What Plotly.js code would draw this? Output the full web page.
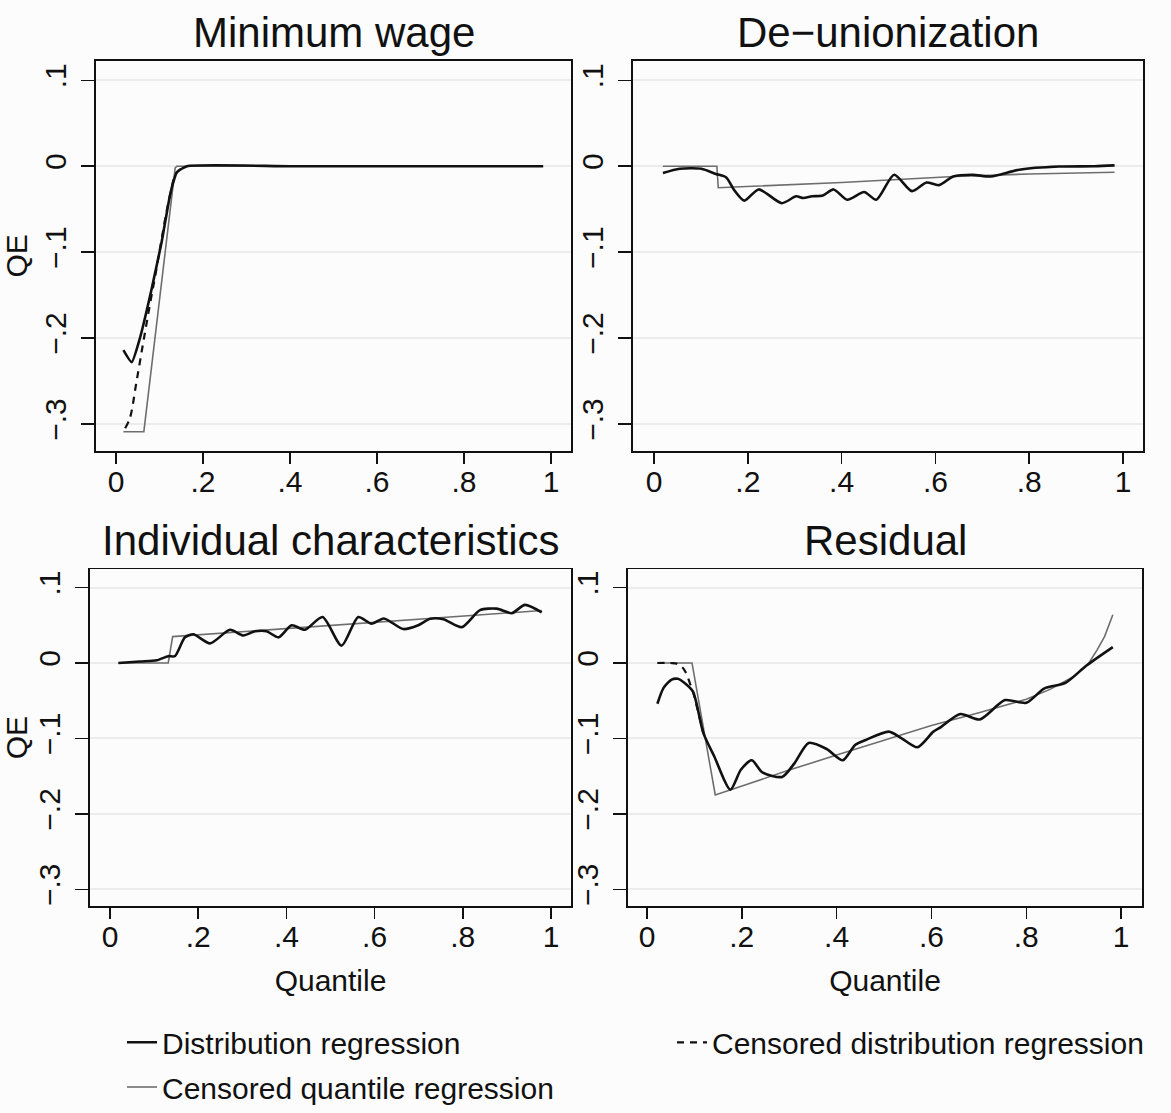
<!DOCTYPE html>
<html>
<head>
<meta charset="utf-8">
<script src="https://cdn.plot.ly/plotly-3.0.1.min.js"></script>
<style>
  html, body { margin: 0; padding: 0; background: #fcfcfc; width: 1171px; height: 1113px; overflow: hidden; }
  #chart { width: 1171px; height: 1113px; overflow: hidden; }
</style>
</head>
<body>
<div id="chart"></div>
<script>
// ---------------- DATA ----------------
const panelTitles = ['Minimum wage', 'De\u2212unionization', 'Individual characteristics', 'Residual'];
const seriesNames = ['Distribution regression', 'Censored quantile regression', 'Censored distribution regression'];
const xTickVals = [0, 0.2, 0.4, 0.6, 0.8, 1];
const xTickText = ['0', '.2', '.4', '.6', '.8', '1'];
const yTickVals = [-0.3, -0.2, -0.1, 0, 0.1];
const yTickText = ['\u2212.3', '\u2212.2', '\u2212.1', '0', '.1'];

// Minimum wage
const mwDrX = [0.017, 0.036, 0.055, 0.082, 0.095, 0.105, 0.124, 0.132, 0.14, 0.163, 0.4, 0.7, 0.982];
const mwDrY = [-0.214, -0.228, -0.200, -0.1425, -0.112, -0.088, -0.034, -0.018, -0.007, 0, 0, 0, 0];
const mwCqrX = [0.017, 0.064, 0.136, 0.14, 0.982];
const mwCqrY = [-0.309, -0.309, -0.002, 0, 0];
const mwCdrX = [0.021, 0.032, 0.047, 0.063, 0.079, 0.09, 0.1, 0.124, 0.14, 0.163];
const mwCdrY = [-0.305, -0.293, -0.251, -0.204, -0.158, -0.128, -0.099, -0.034, -0.007, 0];

// De-unionization
const unDrX = [0.019, 0.055, 0.101, 0.132, 0.154, 0.170, 0.1925, 0.223, 0.2725, 0.303, 0.318, 0.337, 0.360, 0.383, 0.412, 0.448, 0.474, 0.512, 0.550, 0.581, 0.6075, 0.638, 0.680, 0.718, 0.779, 0.863, 0.939, 0.982];
const unDrY = [-0.008, -0.003, -0.003, -0.009, -0.013, -0.027, -0.040, -0.027, -0.043, -0.035, -0.037, -0.035, -0.034, -0.027, -0.039, -0.030, -0.039, -0.010, -0.029, -0.019, -0.022, -0.012, -0.010, -0.012, -0.004, -0.0004, 0, 0.001];
const unCqrX = [0.019, 0.134, 0.137, 0.4, 0.64, 0.8, 0.982];
const unCqrY = [0, 0, -0.025, -0.019, -0.012, -0.009, -0.007];

// Individual characteristics
const icDrX = [0.019, 0.068, 0.106, 0.132, 0.147, 0.170, 0.189, 0.227, 0.272, 0.302, 0.329, 0.355, 0.382, 0.412, 0.442, 0.482, 0.525, 0.563, 0.593, 0.621, 0.665, 0.699, 0.726, 0.756, 0.798, 0.839, 0.877, 0.911, 0.941, 0.979];
const icDrY = [0, 0.002, 0.0035, 0.009, 0.009, 0.034, 0.038, 0.026, 0.044, 0.0365, 0.042, 0.042, 0.034, 0.050, 0.044, 0.061, 0.023, 0.061, 0.052, 0.059, 0.045, 0.050, 0.0585, 0.058, 0.0475, 0.070, 0.072, 0.066, 0.077, 0.067];
const icCqrX = [0.019, 0.132, 0.142, 0.979];
const icCqrY = [0, 0, 0.035, 0.0695];

// Residual
const reDrX = [0.022, 0.035, 0.052, 0.065, 0.078, 0.097, 0.119, 0.142, 0.176, 0.198, 0.221, 0.2434, 0.285, 0.311, 0.341, 0.379, 0.413, 0.439, 0.4615, 0.510, 0.537, 0.5705, 0.604, 0.619, 0.661, 0.702, 0.755, 0.800, 0.8375, 0.8826, 0.9276, 0.9825];
const reDrY = [-0.054, -0.033, -0.022, -0.021, -0.026, -0.038, -0.093, -0.124, -0.168, -0.1416, -0.129, -0.145, -0.151, -0.133, -0.106, -0.114, -0.129, -0.1086, -0.102, -0.091, -0.0998, -0.1117, -0.091, -0.0853, -0.0677, -0.0748, -0.0492, -0.0528, -0.0339, -0.0264, -0.003, 0.0211];
const reCqrX = [0.022, 0.095, 0.144, 0.3, 0.4, 0.5, 0.6, 0.7, 0.8, 0.85, 0.9, 0.93, 0.95, 0.965, 0.9825];
const reCqrY = [0, 0, -0.175, -0.142, -0.122, -0.102, -0.083, -0.066, -0.048, -0.035, -0.018, -0.002, 0.018, 0.035, 0.064];
const reCdrX = [0.022, 0.05, 0.063, 0.075, 0.083, 0.09, 0.097, 0.108, 0.119];
const reCdrY = [0, 0, -0.001, -0.006, -0.014, -0.026, -0.038, -0.065, -0.093];

// ---------------- STYLE / LAYOUT ----------------
const W = 1171, H = 1113;
const FONT = 'Liberation Sans, Arial, Helvetica, sans-serif';
const drLine = { color: '#111111', width: 2.6, shape: 'spline', smoothing: 0.7 };
const cqrLine = { color: '#6e6e6e', width: 1.6 };
const cdrLine = { color: '#111111', width: 2.2, dash: '7px,6px' };

function tr(x, y, line, name, xa, ya, opts) {
  return Object.assign({ type: 'scatter', mode: 'lines', x: x, y: y, line: line, name: name,
    xaxis: xa, yaxis: ya, showlegend: false, hoverinfo: 'skip' }, opts || {});
}

const data = [
  tr(mwCqrX, mwCqrY, cqrLine, seriesNames[1], 'x', 'y', { showlegend: true, legend: 'legend3' }),
  tr(mwCdrX, mwCdrY, Object.assign({}, cdrLine, { shape: 'spline' }), seriesNames[2], 'x', 'y', { showlegend: true, legend: 'legend2' }),
  tr(mwDrX, mwDrY, Object.assign({}, drLine, { smoothing: 0.5 }), seriesNames[0], 'x', 'y', { showlegend: true, legend: 'legend' }),

  tr(unCqrX, unCqrY, cqrLine, seriesNames[1], 'x2', 'y2'),
  tr(unDrX, unDrY, drLine, seriesNames[0], 'x2', 'y2'),

  tr(icCqrX, icCqrY, cqrLine, seriesNames[1], 'x3', 'y3'),
  tr(icDrX, icDrY, drLine, seriesNames[0], 'x3', 'y3'),

  tr(reCqrX, reCqrY, cqrLine, seriesNames[1], 'x4', 'y4'),
  tr(reCdrX, reCdrY, Object.assign({}, cdrLine, { shape: 'spline' }), seriesNames[2], 'x4', 'y4'),
  tr(reDrX, reDrY, drLine, seriesNames[0], 'x4', 'y4')
];

function px(a, b) { return [a / W, b / W]; }
function py(top, bottom) { return [1 - bottom / H, 1 - top / H]; }

const tickFont = { family: FONT, size: 30, color: '#111' };
function xAxis(dom, rng, anchor, withTitle) {
  const a = {
    domain: dom, range: rng, anchor: anchor, tickvals: xTickVals, ticktext: xTickText,
    ticks: 'outside', ticklen: 11, tickwidth: 1.6, tickcolor: '#111', ticklabelstandoff: -8,
    showline: true, mirror: true, linecolor: '#111', linewidth: 1.6,
    showgrid: false, zeroline: false, tickfont: tickFont, fixedrange: true
  };
  if (withTitle) a.title = { text: 'Quantile', font: { family: FONT, size: 30, color: '#111' }, standoff: 18 };
  return a;
}
function yAxis(dom, rng, anchor, withTitle) {
  const a = {
    domain: dom, range: rng, anchor: anchor, tickvals: yTickVals, ticktext: yTickText, tickangle: -90,
    ticks: 'outside', ticklen: 13, tickwidth: 1.6, tickcolor: '#111', ticklabelstandoff: 3,
    showline: true, mirror: true, linecolor: '#111', linewidth: 1.6,
    showgrid: true, gridcolor: '#ececec', gridwidth: 2, zeroline: false,
    tickfont: tickFont, fixedrange: true
  };
  if (withTitle) a.title = { text: 'QE', font: { family: FONT, size: 30, color: '#111' }, standoff: 14 };
  return a;
}

const topRow = py(61, 453), botRow = py(572, 910);
const topY = [-0.3314, 0.1228], botY = [-0.322, 0.124];

function panelTitle(text, xr, yr) {
  return { text: text, xref: xr + ' domain', yref: yr + ' domain', x: 0.5, y: 1, xanchor: 'center',
    yanchor: 'bottom', yshift: 3, showarrow: false, font: { family: FONT, size: 42, color: '#111' } };
}

const legendFont = { family: FONT, size: 30, color: '#111' };
function legendBox(xPix, yCenterPix) {
  return { x: xPix / W, y: 1 - yCenterPix / H, xanchor: 'left', yanchor: 'middle',
    orientation: 'v', bgcolor: 'rgba(0,0,0,0)', font: legendFont, itemwidth: 30 };
}
const layout = {
  width: W, height: H,
  margin: { l: 0, r: 0, t: 0, b: 0 },
  paper_bgcolor: '#fcfcfc', plot_bgcolor: '#fcfcfc',
  font: { family: FONT, color: '#111' },
  showlegend: true,
  xaxis:  xAxis(px(96, 571),   [-0.046, 1.046],   'y',  false),
  yaxis:  yAxis(topRow, topY, 'x', true),
  xaxis2: xAxis(px(633, 1143), [-0.0448, 1.0426], 'y2', false),
  yaxis2: yAxis(topRow, topY, 'x2', false),
  xaxis3: xAxis(px(90, 571),   [-0.0454, 1.0454], 'y3', true),
  yaxis3: yAxis(botRow, botY, 'x3', true),
  xaxis4: xAxis(px(628, 1142), [-0.040, 1.044],   'y4', true),
  yaxis4: yAxis(botRow, botY, 'x4', false),
  annotations: [
    panelTitle(panelTitles[0], 'x', 'y'),
    panelTitle(panelTitles[1], 'x2', 'y2'),
    panelTitle(panelTitles[2], 'x3', 'y3'),
    panelTitle(panelTitles[3], 'x4', 'y4')
  ],
  legend:  legendBox(122, 1047),
  legend2: legendBox(672, 1047),
  legend3: legendBox(122, 1092)
};

Plotly.newPlot('chart', data, layout, { displayModeBar: false, staticPlot: true });
</script>
</body>
</html>
